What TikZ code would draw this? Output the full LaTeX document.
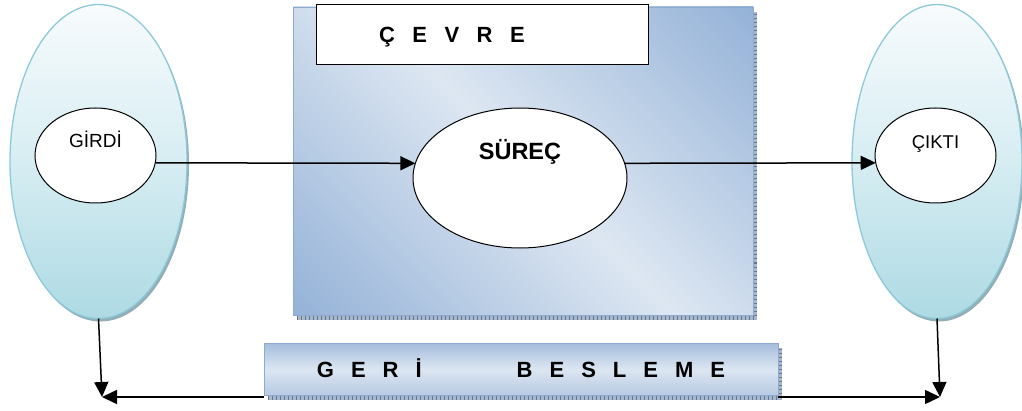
\documentclass[tikz,border=0pt]{standalone}
\usepackage{fontspec}
\setmainfont{Liberation Sans}
\usetikzlibrary{shapes.geometric,arrows.meta}

% colour set
\definecolor{cloudtop}{HTML}{F8FBFD}
\definecolor{cloudmid}{HTML}{D6EDF2}
\definecolor{cloudbot}{HTML}{AEDAE4}
\definecolor{cloudedge}{HTML}{8CCAD9}
\definecolor{cloudshadow}{HTML}{93AEB6}
\definecolor{envdark}{HTML}{93B1D7}
\definecolor{envlight}{HTML}{DDE7F2}
\definecolor{envedge}{HTML}{8FAAD0}
\definecolor{bandfill}{HTML}{A9B7CB}
\definecolor{tickcol}{HTML}{63769A}
\definecolor{fbtop}{HTML}{A4BCDC}
\definecolor{fbmid}{HTML}{DCE6F2}
\definecolor{fbbot}{HTML}{B8CAE3}

% dark - light - dark band used for the environment panel
\pgfdeclareverticalshading{envshade}{100bp}{color(0bp)=(envdark); color(14bp)=(envdark); color(50bp)=(envlight); color(86bp)=(envdark); color(100bp)=(envdark)}

\begin{document}
\begin{tikzpicture}[x=1pt,y=1pt,
  bigoval/.style={ellipse, draw=cloudedge, line width=1.3pt, top color=cloudtop, bottom color=cloudbot, middle color=cloudmid, inner sep=0pt, outer sep=0pt, minimum height=314pt},
  stage/.style={ellipse, draw=black, line width=1pt, fill=white, inner sep=0pt, outer sep=0pt, text height=14pt},
  flow/.style={draw=black, line width=1.5pt, -{Triangle[length=15pt,width=14pt]}},
  panel/.style={draw=envedge, line width=0.8pt},
  ticks/.style={draw=tickcol, line width=4pt, dash pattern=on 1pt off 3pt},
  titlebox/.style={draw=black, line width=1pt, fill=white, inner sep=0pt, outer sep=0pt, text height=16pt, text depth=0pt, font=\bfseries\fontsize{22}{26}\selectfont},
  fbbox/.style={rectangle, draw=envedge, line width=0.8pt, top color=fbtop, bottom color=fbbot, middle color=fbmid, inner sep=0pt, outer sep=0pt, text height=16pt, text depth=0pt, font=\bfseries\fontsize{22}{26}\selectfont},
]
\useasboundingbox (0,0) rectangle (1022,410);

% outer ovals with their shadows
\fill[cloudshadow] (100.5,245.5) ellipse [x radius=88.5, y radius=157];
\node[bigoval, minimum width=177pt] (bigL) at (98.5,248.5) {};
\fill[cloudshadow] (939,245.5) ellipse [x radius=85, y radius=157];
\node[bigoval, minimum width=170pt] (bigR) at (937,248.5) {};

% environment panel
\fill[bandfill] (297,90) rectangle (757,398);
\draw[ticks] (297,92.5) -- (755,92.5) -- (755,398);
\shade[shading=envshade, shading angle=-45] (293,95) rectangle (753,403);
\draw[panel] (293,95) rectangle (753,403);

\node[titlebox, minimum width=332pt, minimum height=60pt] (envtitle) at (482,375)
  {\makebox[330pt][l]{\hspace{62pt}\spaceskip=17.5pt Ç E V R E}};

% feedback bar
\fill[bandfill] (268,10) rectangle (782,62);
\draw[ticks] (268,12.5) -- (780,12.5) -- (780,62);
\node[fbbox, minimum width=514pt, minimum height=52pt] (feedback) at (521,41)
  {\spaceskip=17pt G E R İ\hspace{95pt}B E S L E M E};

% stages
\node[stage, minimum width=121pt, minimum height=95pt, text depth=29pt, font=\fontsize{19}{22}\selectfont] (girdi) at (95.5,254.5) {GİRDİ};
\node[stage, minimum width=214pt, minimum height=140pt, text height=17pt, text depth=53pt, font=\bfseries\fontsize{23.5}{28}\selectfont] (surec) at (520,232) {SÜREÇ};
\node[stage, minimum width=121pt, minimum height=95pt, text depth=27pt, font=\fontsize{18.5}{22}\selectfont] (cikti) at (935.5,254.5) {ÇIKTI};

% main flow
\draw[flow] (girdi.-7) -- (surec.172);
\draw[flow] (surec.8) -- (cikti.187);

% feedback loop
\coordinate (fbL) at (102,13);
\coordinate (fbR) at (940,13);
\draw[flow] (bigL.south) -- (fbL);
\draw[flow] (bigR.south) -- (fbR);
\draw[flow] (feedback.west |- fbL) -- (fbL);
\draw[flow] (feedback.east |- fbR) -- (fbR);
\end{tikzpicture}
\end{document}
